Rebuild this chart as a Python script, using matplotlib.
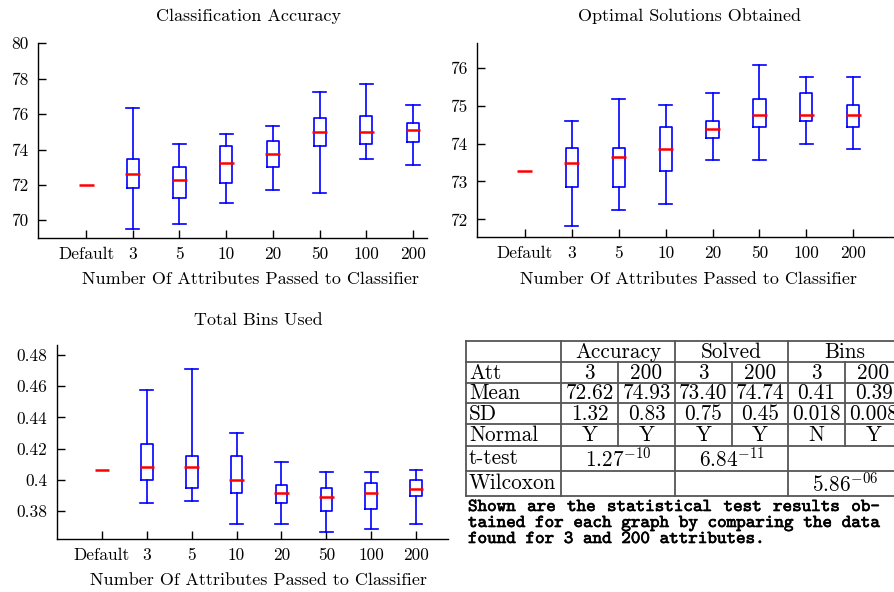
import numpy as np
import matplotlib
matplotlib.use("Agg")
import matplotlib.pyplot as plt
import matplotlib.patheffects as pe

plt.rcParams['font.family'] = 'serif'
plt.rcParams['font.serif'] = ['cmr10']
plt.rcParams['mathtext.fontset'] = 'cm'
plt.rcParams['axes.formatter.use_mathtext'] = True

categorias = ["Default", "3", "5", "10", "20", "50", "100", "200"]

# Classification Accuracy (default + boxes para 3..200)
acc_default = 71.98
acc_low = [69.49, 69.81, 70.96, 71.70, 71.55, 73.45, 73.13]
acc_q1 = [71.85, 71.26, 72.11, 73.02, 74.17, 74.30, 74.45]
acc_med = [72.64, 72.26, 73.23, 73.74, 74.98, 74.98, 75.11]
acc_q3 = [73.45, 73.02, 74.17, 74.47, 75.77, 75.91, 75.49]
acc_high = [76.36, 74.32, 74.89, 75.34, 77.25, 77.68, 76.49]

# Optimal Solutions Obtained
sol_default = 73.27
sol_low = [71.82, 72.25, 72.40, 73.56, 73.56, 74.00, 73.86]
sol_q1 = [72.85, 72.85, 73.27, 74.15, 74.44, 74.59, 74.44]
sol_med = [73.49, 73.65, 73.86, 74.37, 74.74, 74.74, 74.74]
sol_q3 = [73.87, 73.87, 74.44, 74.60, 75.17, 75.32, 75.02]
sol_high = [74.60, 75.17, 75.02, 75.33, 76.06, 75.75, 75.75]

# Total Bins Used
bins_default = 0.4063
bins_low = [0.3849, 0.3864, 0.3717, 0.3717, 0.3668, 0.3682, 0.3717]
bins_q1 = [0.3999, 0.3947, 0.3915, 0.3849, 0.3800, 0.3815, 0.3898]
bins_med = [0.4084, 0.4084, 0.3999, 0.3918, 0.3892, 0.3918, 0.3941]
bins_q3 = [0.4229, 0.4150, 0.4150, 0.3967, 0.3947, 0.3982, 0.3999]
bins_high = [0.4578, 0.4712, 0.4298, 0.4116, 0.4048, 0.4048, 0.4065]

# Tabela
grupos = ["Accuracy", "Solved", "Bins"]
rotulos_linhas = ["Att", "Mean", "SD", "Normal"]
linha_att = ["3", "200", "3", "200", "3", "200"]
linha_mean = ["72.62", "74.93", "73.40", "74.74", "0.41", "0.39"]
linha_sd = ["1.32", "0.83", "0.75", "0.45", "0.018", "0.008"]
linha_normal = ["Y", "Y", "Y", "Y", "N", "Y"]
linha_ttest = [r"$1.27^{-10}$", r"$6.84^{-11}$", ""]
linha_wilcoxon = ["", "", r"$5.86^{-06}$"]
legenda = [
    "Shown are the statistical test results ob-",
    "tained for each graph by comparing the data",
    "found for 3 and 200 attributes.",
]

AZUL = "#0000ff"
VERMELHO = "#ff0000"
FS = 12.5   # rotulos dos ticks
FL = 13.0   # titulos e rotulos dos eixos


def desenhar_boxes(ax, default, low, q1, med, q3, high):
    stats = [dict(whislo=a, q1=b, med=c, q3=d, whishi=e, fliers=[])
             for a, b, c, d, e in zip(low, q1, med, q3, high)]
    pos = np.arange(2, len(stats) + 2)
    estilo = dict(color=AZUL, linewidth=1.2)
    ax.bxp(stats, positions=pos, widths=0.26, capwidths=0.28, showfliers=False,
           boxprops=estilo, whiskerprops=estilo, capprops=estilo,
           medianprops=dict(visible=False), manage_ticks=False)
    todas_pos = np.arange(1, len(stats) + 2)
    todas_med = [default] + list(med)
    ax.hlines(todas_med, todas_pos - 0.16, todas_pos + 0.16, color=VERMELHO,
              linewidth=1.8, zorder=3)


def formatar(ax, xlim, ylim, yticks, ylabels):
    ax.set_xlim(*xlim)
    ax.set_ylim(*ylim)
    ax.set_xticks(np.arange(1, len(categorias) + 1))
    ax.set_xticklabels(categorias)
    ax.set_yticks(yticks)
    ax.set_yticklabels(ylabels)
    for lado in ["top", "right"]:
        ax.spines[lado].set_visible(False)
    for lado in ["left", "bottom"]:
        ax.spines[lado].set_linewidth(1.0)
    ax.tick_params(direction="in", length=5.5, width=1.0, labelsize=FS)
    ax.tick_params(axis="y", pad=7)
    ax.tick_params(axis="x", pad=6)


fig = plt.figure(figsize=(8.94, 5.92), dpi=100)
W, H = 894, 592


def eixo(x0, y0, x1, y1):
    return fig.add_axes([x0 / W, 1 - y1 / H, (x1 - x0) / W, (y1 - y0) / H])


ax1 = eixo(38, 43.3, 427, 238)
desenhar_boxes(ax1, acc_default, acc_low, acc_q1, acc_med, acc_q3, acc_high)
formatar(ax1, (-0.03, 8.3), (69, 80), [70, 72, 74, 76, 78, 80],
         ["70", "72", "74", "76", "78", "80"])

ax2 = eixo(477, 43.3, 894, 237.3)
desenhar_boxes(ax2, sol_default, sol_low, sol_q1, sol_med, sol_q3, sol_high)
formatar(ax2, (-0.023, 8.87), (71.53, 76.64), [72, 73, 74, 75, 76],
         ["72", "73", "74", "75", "76"])

ax3 = eixo(57, 345, 448, 539.3)
desenhar_boxes(ax3, bins_default, bins_low, bins_q1, bins_med, bins_q3, bins_high)
formatar(ax3, (0, 8.71), (0.3618, 0.4864), [0.38, 0.40, 0.42, 0.44, 0.46, 0.48],
         ["0.38", "0.4", "0.42", "0.44", "0.46", "0.48"])

# Titulos e rotulos em posicoes de pixel
sobre = fig.add_axes([0, 0, 1, 1])
sobre.set_xlim(0, W)
sobre.set_ylim(H, 0)
sobre.axis("off")

for x, y, t in [(249, 16, "Classification Accuracy"),
                (689, 16, "Optimal Solutions Obtained"),
                (258, 320, "Total Bins Used")]:
    sobre.text(x, y, t, ha="center", va="center", fontsize=FL)
for x, y in [(250, 279), (689, 279), (258, 580)]:
    sobre.text(x, y, "Number Of Attributes Passed to Classifier",
               ha="center", va="center", fontsize=FL)

# Tabela desenhada com linhas
ys = [341, 362, 383, 403, 424, 446, 471, 496]
xs = [466, 561, 618, 675, 732, 788, 845, 902]
cor_linha = "#555555"
lw_t = 1.3
for y in ys:
    sobre.plot([xs[0], xs[-1]], [y, y], color=cor_linha, lw=lw_t)
for x in [xs[0], xs[1], xs[3], xs[5], xs[7]]:
    sobre.plot([x, x], [ys[0], ys[-1]], color=cor_linha, lw=lw_t)
for x in [xs[2], xs[4], xs[6]]:
    sobre.plot([x, x], [ys[1], ys[5]], color=cor_linha, lw=lw_t)

FT = 15.3
for i, g in enumerate(grupos):
    cx = (xs[1 + 2 * i] + xs[3 + 2 * i]) / 2
    sobre.text(cx, (ys[0] + ys[1]) / 2 + 0.5, g, ha="center", va="center", fontsize=FT)

linhas = [linha_att, linha_mean, linha_sd, linha_normal]
for r, (rot, vals) in enumerate(zip(rotulos_linhas, linhas)):
    cy = (ys[r + 1] + ys[r + 2]) / 2 + 0.5
    sobre.text(469, cy, rot, ha="left", va="center", fontsize=FT)
    for j, v in enumerate(vals):
        cx = (xs[1 + j] + xs[2 + j]) / 2
        sobre.text(cx, cy, v, ha="center", va="center", fontsize=FT)

for r, (rot, vals) in enumerate([("t-test", linha_ttest), ("Wilcoxon", linha_wilcoxon)]):
    cy = (ys[r + 5] + ys[r + 6]) / 2
    sobre.text(469, cy, rot, ha="left", va="center", fontsize=FT)
    for i, v in enumerate(vals):
        if v:
            cx = (xs[1 + 2 * i] + xs[3 + 2 * i]) / 2
            sobre.text(cx, cy, v, ha="center", va="center", fontsize=FT)

# Legenda em tipo maquina de escrever, justificada
char_w = 9.58
fonte_leg = dict(family="cmtt10", fontsize=13.1, va="baseline", ha="left",
                 path_effects=[pe.withStroke(linewidth=0.45, foreground="black")])
for k, (linha, yb) in enumerate(zip(legenda, [511, 527, 543])):
    palavras = linha.split()
    if k < len(legenda) - 1:
        total = sum(len(p) for p in palavras) * char_w
        gap = (880 - 468 - total) / (len(palavras) - 1)
    else:
        gap = char_w
    x = 468
    for p in palavras:
        sobre.text(x, yb, p, **fonte_leg)
        x += len(p) * char_w + gap

plt.savefig("out.png", dpi=100)
